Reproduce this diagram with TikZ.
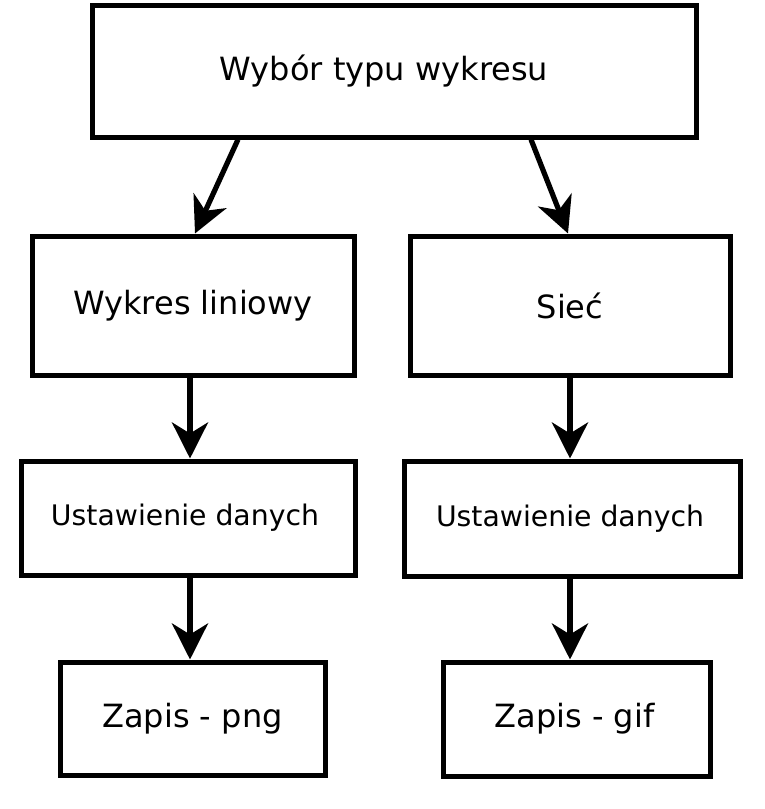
\documentclass[tikz,border=0pt]{standalone}
\usepackage{fontspec}
\setmainfont{DejaVu Sans}
\usetikzlibrary{arrows.meta}
\begin{document}
\begin{tikzpicture}[x=1pt,y=-1pt,
  box/.style={draw, line width=5pt, rectangle, inner sep=0pt, align=center, font=\fontsize{32}{36}\selectfont},
  small/.style={font=\fontsize{28.3}{32}\selectfont},
  arr/.style={line width=5.2pt, -{Stealth[length=36pt,width=36pt,inset=11pt]}}]
\useasboundingbox (0,0) rectangle (764,809);
\node[box, minimum width=604pt, minimum height=132pt] (top) at (394,71) {\hspace*{-20pt}Wybór typu wykresu};
\node[box, minimum width=322pt, minimum height=139pt] (l2) at (193,305.5) {Wykres liniowy};
\node[box, minimum width=320pt, minimum height=139pt] (r2) at (570,305.5) {Sieć};
\node[box, small, minimum width=334pt, minimum height=114pt] (l3) at (188,518) {\hspace*{-6pt}Ustawienie danych};
\node[box, small, minimum width=336pt, minimum height=115pt] (r3) at (572,518.5) {\hspace*{-4pt}Ustawienie danych};
\node[box, minimum width=265pt, minimum height=113pt] (l4) at (192.5,718.5) {Zapis - png};
\node[box, minimum width=267pt, minimum height=114pt] (r4) at (576.5,719) {\hspace*{-4pt}Zapis - gif};
\draw[arr] ([xshift=-156pt]top.south) -- ([xshift=2pt]l2.north);
\draw[arr] ([xshift=137pt]top.south) -- ([xshift=-2pt]r2.north);
\draw[arr] ([xshift=-3pt]l2.south) -- ([xshift=2pt]l3.north);
\draw[arr] (r2.south) -- ([xshift=-2pt]r3.north);
\draw[arr] ([xshift=2pt]l3.south) -- ([xshift=-2.5pt]l4.north);
\draw[arr] ([xshift=-2pt]r3.south) -- ([xshift=-6.5pt]r4.north);
\end{tikzpicture}
\end{document}
